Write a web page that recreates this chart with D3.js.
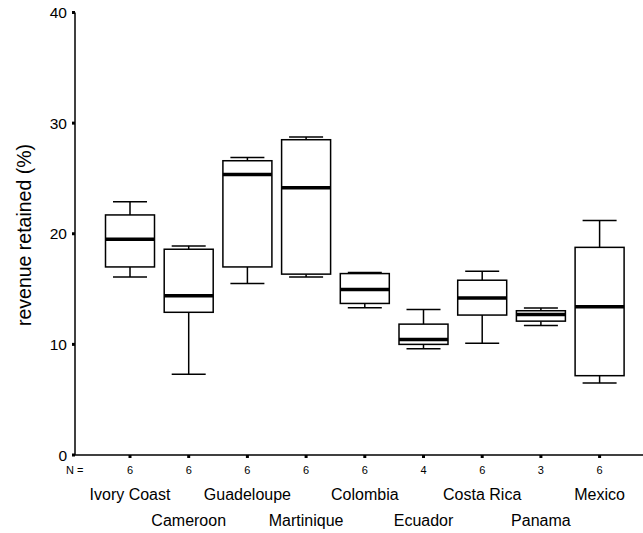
<!DOCTYPE html>
<html>
<head>
<meta charset="utf-8">
<script src="https://cdn.jsdelivr.net/npm/d3@7"></script>
<style>
  html, body { margin: 0; padding: 0; background: #fff; }
  svg { display: block; font-family: "Liberation Sans", Arial, sans-serif; }
</style>
</head>
<body>
<svg id="chart" width="643" height="533"></svg>
<script>
// Revenue retained by country: box plot summaries
const countries = ["Ivory Coast", "Cameroon", "Guadeloupe", "Martinique", "Colombia",
                   "Ecuador", "Costa Rica", "Panama", "Mexico"];
const counts      = [6, 6, 6, 6, 6, 4, 6, 3, 6];
const whiskerLow  = [16.1, 7.3, 15.5, 16.1, 13.3, 9.6, 10.1, 11.7, 6.5];
const quartile1   = [17.0, 12.9, 17.0, 16.35, 13.7, 10.0, 12.65, 12.1, 7.17];
const medians     = [19.5, 14.4, 25.35, 24.15, 14.97, 10.45, 14.2, 12.71, 13.4];
const quartile3   = [21.7, 18.6, 26.6, 28.5, 16.4, 11.83, 15.8, 13.04, 18.77];
const whiskerHigh = [22.9, 18.9, 26.9, 28.75, 16.5, 13.16, 16.6, 13.28, 21.2];
const yTicks      = [0, 10, 20, 30, 40];

const svg = d3.select("#chart");

const axisX = 75, axisBottom = 455, axisTop = 12.5;

const y = d3.scaleLinear().domain([0, 40]).range([axisBottom, axisTop]);
const x = d3.scalePoint().domain(countries).range([130, 599.6]);

const boxW = 49, capW = 34;

const rows = countries.map((c, i) => ({
  name: c, n: counts[i], lo: whiskerLow[i], q1: quartile1[i],
  med: medians[i], q3: quartile3[i], hi: whiskerHigh[i], i
}));

// axes lines
svg.append("line")
  .attr("x1", axisX).attr("x2", axisX)
  .attr("y1", y(40)).attr("y2", axisBottom)
  .attr("stroke", "#000").attr("stroke-width", 1.5);
svg.append("line")
  .attr("x1", axisX).attr("x2", 643)
  .attr("y1", axisBottom).attr("y2", axisBottom)
  .attr("stroke", "#000").attr("stroke-width", 1.5);

// y ticks and labels
const yt = svg.append("g");
yt.selectAll("rect").data(yTicks).join("rect")
  .attr("x", axisX - 3).attr("y", d => y(d) - 1.5)
  .attr("width", 3).attr("height", 3).attr("fill", "#000");
yt.selectAll("text").data(yTicks).join("text")
  .attr("x", 67).attr("y", d => y(d) + 5.5)
  .attr("text-anchor", "end")
  .attr("font-size", 15.5)
  .text(d => d);

// y axis title
svg.append("text")
  .attr("transform", `translate(31,235) rotate(-90)`)
  .attr("text-anchor", "middle")
  .attr("font-size", 19.5)
  .text("revenue retained (%)");

// x ticks
svg.append("g").selectAll("rect").data(rows).join("rect")
  .attr("x", d => x(d.name) - 1.5).attr("y", axisBottom)
  .attr("width", 3).attr("height", 3).attr("fill", "#000");

// N row
svg.append("text")
  .attr("x", 66).attr("y", 474)
  .attr("font-size", 11)
  .text("N =");
svg.append("g").selectAll("text").data(rows).join("text")
  .attr("x", d => x(d.name)).attr("y", 474)
  .attr("text-anchor", "middle")
  .attr("font-size", 11)
  .text(d => d.n);

// country labels, staggered on two rows
svg.append("g").selectAll("text").data(rows).join("text")
  .attr("x", d => x(d.name))
  .attr("y", d => d.i % 2 === 0 ? 499.5 : 525.5)
  .attr("text-anchor", "middle")
  .attr("font-size", 16)
  .text(d => d.name);

// boxes
const g = svg.append("g").selectAll("g").data(rows).join("g");
// whiskers
g.append("line")
  .attr("x1", d => x(d.name)).attr("x2", d => x(d.name))
  .attr("y1", d => y(d.hi)).attr("y2", d => y(d.q3))
  .attr("stroke", "#000").attr("stroke-width", 1.5);
g.append("line")
  .attr("x1", d => x(d.name)).attr("x2", d => x(d.name))
  .attr("y1", d => y(d.q1)).attr("y2", d => y(d.lo))
  .attr("stroke", "#000").attr("stroke-width", 1.5);
// caps
g.append("line")
  .attr("x1", d => x(d.name) - capW / 2).attr("x2", d => x(d.name) + capW / 2)
  .attr("y1", d => y(d.hi)).attr("y2", d => y(d.hi))
  .attr("stroke", "#000").attr("stroke-width", 1.5);
g.append("line")
  .attr("x1", d => x(d.name) - capW / 2).attr("x2", d => x(d.name) + capW / 2)
  .attr("y1", d => y(d.lo)).attr("y2", d => y(d.lo))
  .attr("stroke", "#000").attr("stroke-width", 1.5);
// box
g.append("rect")
  .attr("x", d => x(d.name) - boxW / 2)
  .attr("y", d => y(d.q3))
  .attr("width", boxW)
  .attr("height", d => y(d.q1) - y(d.q3))
  .attr("fill", "#fff").attr("stroke", "#000").attr("stroke-width", 1.5);
// median
g.append("line")
  .attr("x1", d => x(d.name) - boxW / 2).attr("x2", d => x(d.name) + boxW / 2)
  .attr("y1", d => y(d.med)).attr("y2", d => y(d.med))
  .attr("stroke", "#000").attr("stroke-width", 3.5);
</script>
</body>
</html>
